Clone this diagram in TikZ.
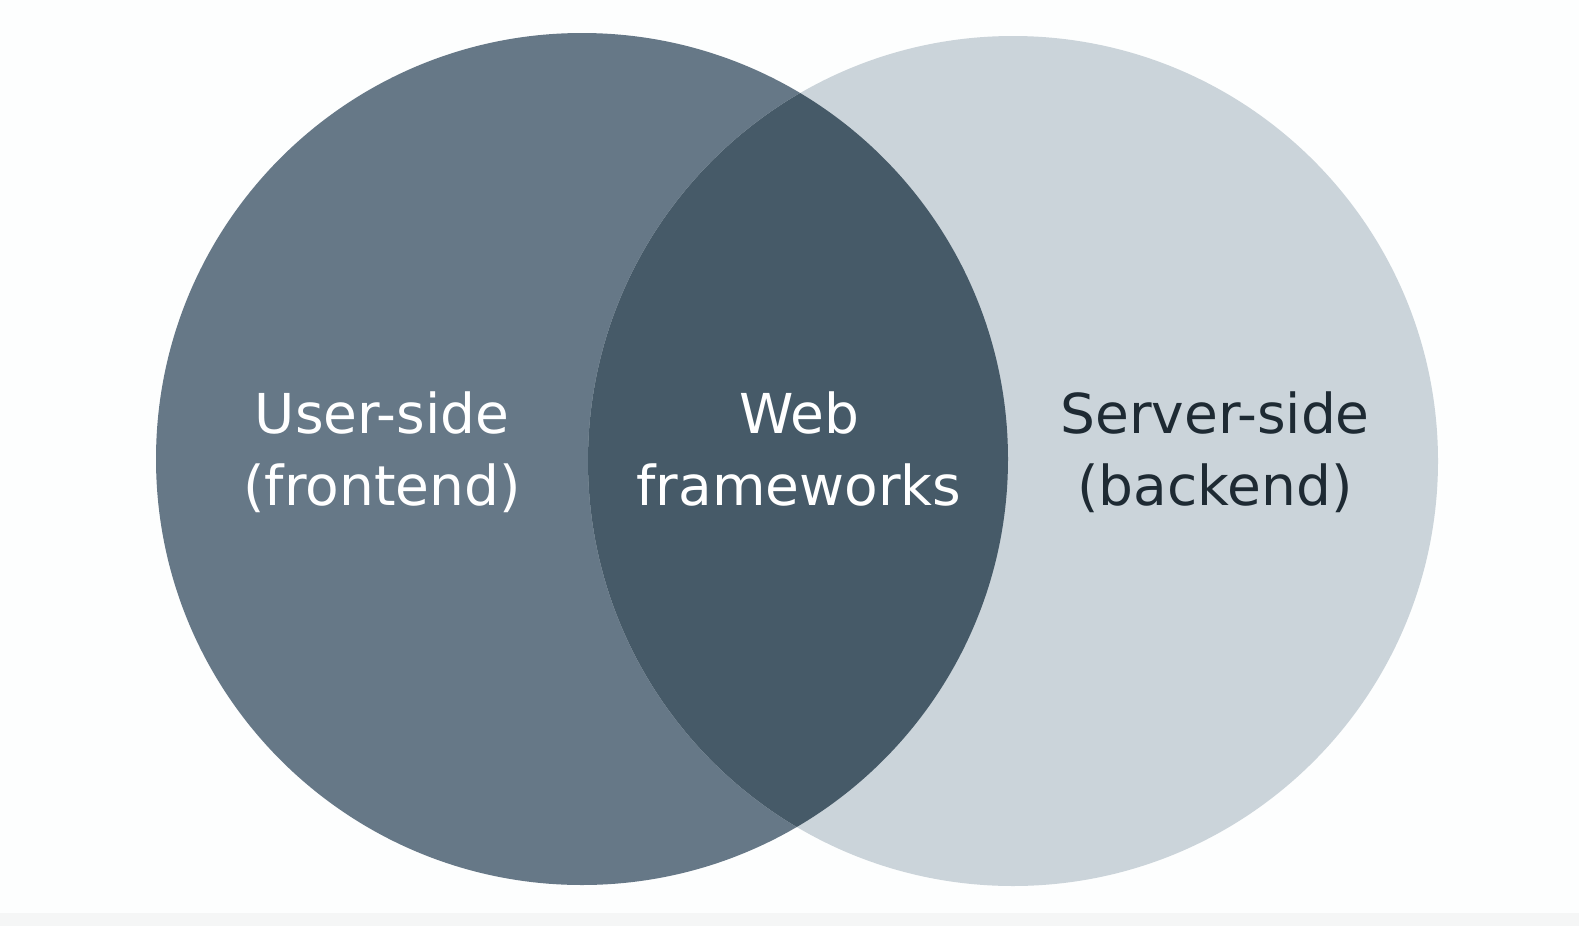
\documentclass[tikz,border=0pt]{standalone}
\usepackage{fontspec}
\setmainfont{DejaVu Sans}
\definecolor{pagebg}{HTML}{FDFEFE}
\definecolor{bandbg}{HTML}{F5F6F6}
\definecolor{frontfill}{HTML}{667887}
\definecolor{backfill}{HTML}{CBD4DA}
\definecolor{overlapfill}{HTML}{465A68}
\definecolor{darktext}{HTML}{1E2A33}
\tikzset{
  setlabel/.style={align=center, font=\fontsize{55}{72}\selectfont, inner sep=0pt, anchor=base},
}
\begin{document}
\begin{tikzpicture}[x=1pt,y=-1pt]
  % canvas
  \fill[pagebg] (0,0) rectangle (1579,926);
  \fill[bandbg] (0,913) rectangle (1579,926);
  \useasboundingbox (0,0) rectangle (1579,926);
  % the two sets
  \fill[frontfill] (582,459) circle[radius=426];
  \fill[backfill] (1013,461) circle[radius=425];
  % overlap
  \begin{scope}
    \clip (582,459) circle[radius=426];
    \fill[overlapfill] (1013,461) circle[radius=425];
  \end{scope}
  % labels (base anchor = baseline of the second line, y = 505)
  \node[setlabel, text=white] (front) at (382,505) {User-side\\(frontend)};
  \node[setlabel, text=white] (web) at (799,505) {Web\\frameworks};
  \node[setlabel, text=darktext] (back) at (1215,505) {Server-side\\(backend)};
\end{tikzpicture}
\end{document}
